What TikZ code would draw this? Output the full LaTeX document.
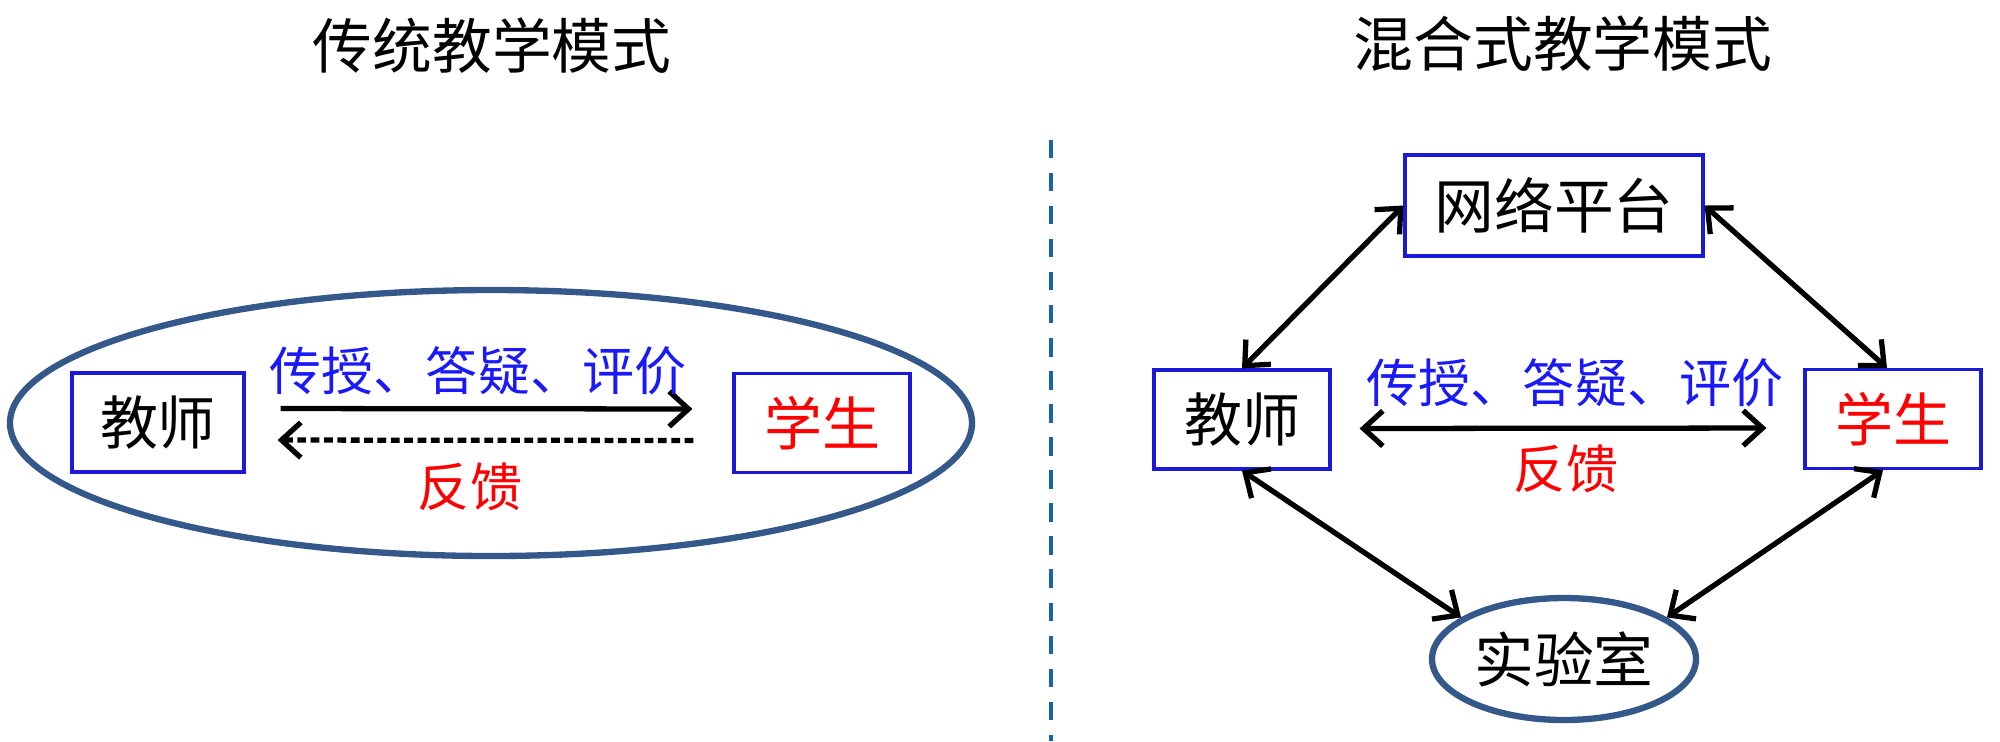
\documentclass[tikz,border=0pt]{standalone}
\usepackage{fontspec}
\setmainfont{Noto Sans CJK SC}
\usepackage{tikz}
\usetikzlibrary{shapes.geometric,arrows.meta,positioning}
\definecolor{BoxBlue}{RGB}{25,25,215}
\definecolor{RingBlue}{RGB}{52,88,138}
\definecolor{DivBlue}{RGB}{28,96,176}
\definecolor{LabelBlue}{RGB}{25,25,250}
\colorlet{LabelRed}{red}

\begin{document}
\begin{tikzpicture}[
  title/.style={font=\fontsize{17pt}{20pt}\selectfont},
  actor/.style={rectangle, draw=BoxBlue, line width=0.9pt, inner sep=0pt, minimum height=0.99cm, font=\fontsize{16.5pt}{20pt}\selectfont},
  ring/.style={ellipse, draw=RingBlue, line width=1.8pt, inner sep=0pt},
  say/.style={font=\fontsize{14.8pt}{18pt}\selectfont},
  flow/.style={line width=1.5pt, -{Straight Barb[length=5.5pt,width=10pt]}},
  link/.style={line width=1.5pt, {Straight Barb[length=5.5pt,width=10pt]}-{Straight Barb[length=5.5pt,width=10pt]}}
]
\useasboundingbox (0,0) rectangle (20,-7.41);

% Titles
\node[title] (titleL) at (4.92,-0.46) {传统教学模式};
\node[title] (titleR) at (15.63,-0.44) {混合式教学模式};

% Divider
\draw[DivBlue, line width=1.4pt, dash pattern=on 5.2pt off 4.2pt] (10.51,-1.40) -- (10.51,-7.41);

% Traditional model
\node[ring, minimum width=9.62cm, minimum height=2.66cm] (ringL) at (4.91,-4.23) {};
\node[actor, minimum width=1.72cm] (teacherL) at (1.58,-4.225) {教师};
\node[actor, minimum width=1.76cm, text=LabelRed] (studentL) at (8.22,-4.23) {学生};
\draw[flow, shorten <=3.5mm, shorten >=4mm] ([yshift=1.4mm]teacherL.east) -- ([yshift=1.4mm]studentL.west);
\draw[flow, dash pattern=on 2.5pt off 1.3pt, shorten <=3.9mm, shorten >=3.2mm] ([yshift=-1.75mm]studentL.west) -- ([yshift=-1.75mm]teacherL.east);
\node[say, text=LabelBlue] (teachL) at (4.78,-3.71) {传授、答疑、评价};
\node[say, text=LabelRed] (backL) at (4.70,-4.87) {反馈};

% Blended model
\node[actor, minimum width=2.98cm, minimum height=1.01cm, font=\fontsize{17pt}{20pt}\selectfont] (platform) at (15.54,-2.055) {网络平台};
\node[actor, minimum width=1.76cm] (teacherR) at (12.42,-4.195) {教师};
\node[actor, minimum width=1.76cm, text=LabelRed] (studentR) at (18.93,-4.19) {学生};
\node[ring, minimum width=2.64cm, minimum height=1.22cm, font=\fontsize{17pt}{20pt}\selectfont] (lab) at (15.64,-6.59) {实验室};
\draw[link, shorten <=2.8mm, shorten >=3.7mm] ([yshift=-0.9mm]teacherR.east) -- ([yshift=-0.9mm]studentR.west);
\node[say, text=LabelBlue] (teachR) at (15.75,-3.83) {传授、答疑、评价};
\node[say, text=LabelRed] (backR) at (15.66,-4.69) {反馈};
\draw[link] (teacherR.north) -- (platform.west);
\draw[link] (platform.east) -- ([xshift=-0.6mm]studentR.north);
\draw[link] (teacherR.south) -- (lab.158);
\draw[link] ([xshift=-1mm]studentR.south) -- (lab.22);

\end{tikzpicture}
\end{document}
